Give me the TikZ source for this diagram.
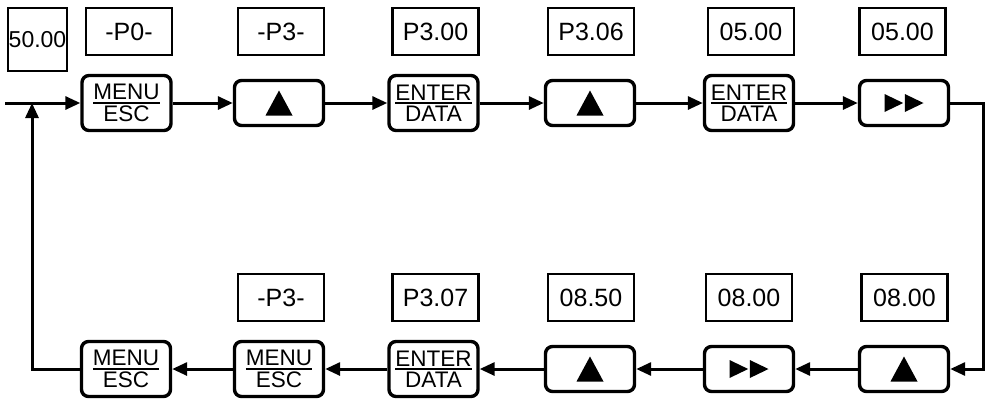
\documentclass[tikz,border=0pt]{standalone}
\usepackage{fontspec}
\setmainfont{Liberation Sans}
\usetikzlibrary{arrows.meta}
\newcommand\keyfr[2]{\setbox0\hbox{#1}\setbox2\hbox{#2}%
  \dimen0=\ifdim\wd0>\wd2 \wd0\else\wd2\fi
  \vbox{\hbox to\dimen0{\hss\box0\hss}\kern1.5pt\hrule height 2.2pt\kern2pt\hbox to\dimen0{\hss\box2\hss}}}
\tikzset{
  disp/.style={draw, line width=2.4pt, minimum width=86pt, minimum height=47pt, inner sep=0pt,
    font=\fontsize{25}{29}\selectfont},
  keyb/.style={draw, line width=3.4pt, rounded corners=7pt, minimum width=89pt, inner sep=0pt,
    font=\fontsize{22.5}{26}\selectfont},
  keytall/.style={keyb, minimum height=55pt},
  keyshort/.style={keyb, minimum height=45pt},
  conn/.style={line width=3pt, -{Triangle[length=15pt,width=13pt]}},
}
\newcommand\uptri[1]{\fill[shift={(#1.center)}] (0,-12.5) -- (13.5,12.5) -- (-13.5,12.5) -- cycle;}
\newcommand\fftri[1]{\fill[shift={(#1.center)}] (-19.5,-9) -- (-0.8,0) -- (-19.5,9) -- cycle (0.8,-9) -- (19.5,0) -- (0.8,9) -- cycle;}
\begin{document}
\begin{tikzpicture}[x=1pt,y=-1pt]
\useasboundingbox (0,0) rectangle (990,400);
% top displays
\node[disp, minimum width=59pt, minimum height=63pt, font=\fontsize{23}{27}\selectfont] (d0) at (37.5,39.5) {50.00};
\node[disp] (d1) at (129,31.5) {-P0-};
\node[disp] (d2) at (281,31.5) {-P3-};
\node[disp] (d3) at (435.5,31.5) {P3.00};
\node[disp] (d4) at (591,31.5) {P3.06};
\node[disp] (d5) at (751,31.5) {05.00};
\node[disp] (d6) at (902.5,31.5) {05.00};
% top keys
\node[keytall] (k1) at (126.5,103) {\keyfr{MENU}{ESC}};
\node[keyshort] (k2) at (279,103) {};
\node[keytall] (k3) at (433.5,103) {\keyfr{ENTER}{DATA}};
\node[keyshort] (k4) at (590,103) {};
\node[keytall] (k5) at (749,103) {\keyfr{ENTER}{DATA}};
\node[keyshort] (k6) at (904,103) {};
\uptri{k2}
\uptri{k4}
\fftri{k6}
% bottom displays
\node[disp] (e2) at (281,297.5) {-P3-};
\node[disp] (e3) at (435.5,297.5) {P3.07};
\node[disp] (e4) at (591,297.5) {08.50};
\node[disp] (e5) at (749,297.5) {08.00};
\node[disp] (e6) at (904.5,297.5) {08.00};
% bottom keys
\node[keytall] (b1) at (126,369) {\keyfr{MENU}{ESC}};
\node[keytall] (b2) at (279,369) {\keyfr{MENU}{ESC}};
\node[keytall] (b3) at (433.5,369) {\keyfr{ENTER}{DATA}};
\node[keyshort] (b4) at (590,369) {};
\node[keyshort] (b5) at (749,369) {};
\node[keyshort] (b6) at (904,369) {};
\uptri{b4}
\fftri{b5}
\uptri{b6}
% connectors
\coordinate (start) at (5,103);
\coordinate (j) at (32,103);
\coordinate (rc) at (983,103);
\draw[conn] (start) -- (k1);
\draw[conn] (k1) -- (k2);
\draw[conn] (k2) -- (k3);
\draw[conn] (k3) -- (k4);
\draw[conn] (k4) -- (k5);
\draw[conn] (k5) -- (k6);
\draw[conn] (k6.east) -- (rc) |- (b6.east);
\draw[conn] (b6) -- (b5);
\draw[conn] (b5) -- (b4);
\draw[conn] (b4) -- (b3);
\draw[conn] (b3) -- (b2);
\draw[conn] (b2) -- (b1);
\draw[conn] (b1.west) -| (j);
\end{tikzpicture}
\end{document}
